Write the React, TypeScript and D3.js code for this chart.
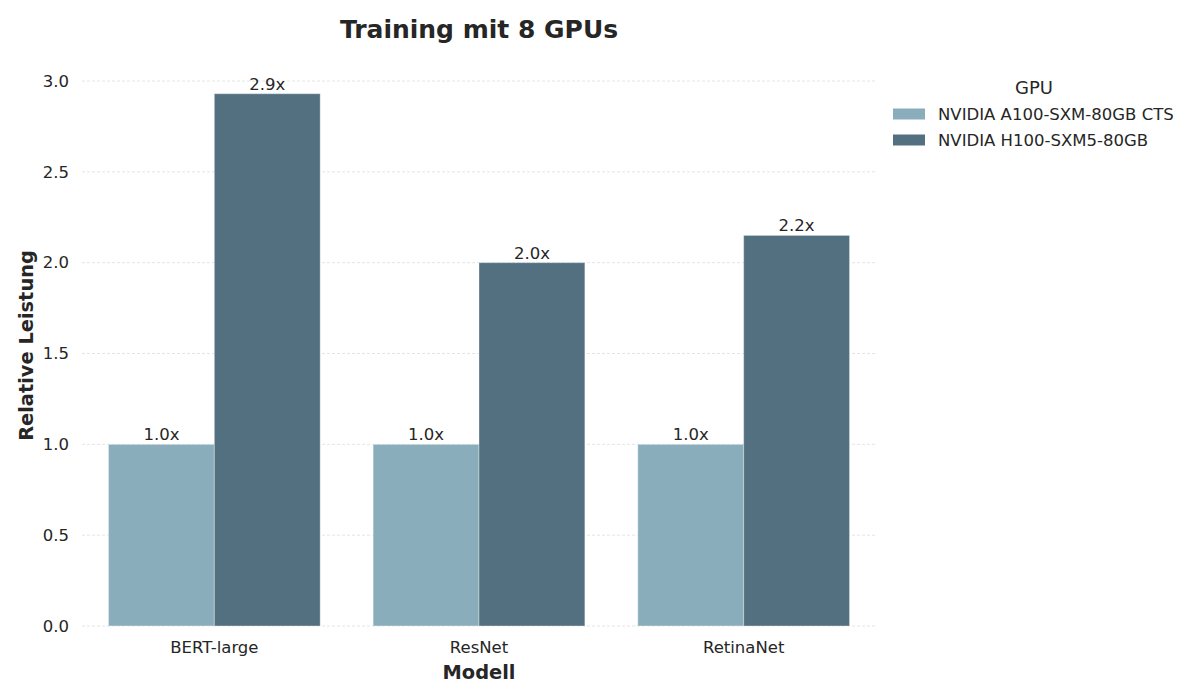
import React from 'react';
import * as d3 from 'd3';

// data
const models = ['BERT-large', 'ResNet', 'RetinaNet'];
const gpus = ['NVIDIA A100-SXM-80GB CTS', 'NVIDIA H100-SXM5-80GB'];
const a100 = [1.0, 1.0, 1.0];
const h100 = [2.93, 2.0, 2.15];
const a100Labels = ['1.0x', '1.0x', '1.0x'];
const h100Labels = ['2.9x', '2.0x', '2.2x'];
const yTicks = [0, 0.5, 1.0, 1.5, 2.0, 2.5, 3.0];

const colors = ['#8aadbc', '#537081'];
const textColor = '#262626';
const font = '"DejaVu Sans", sans-serif';

const W = 1200;
const H = 700;
const left = 82;
const right = 876;
const top = 65;
const bottom = 626;

function App() {
  const x = d3.scaleBand<string>().domain(models).range([left, right]).paddingInner(0.2).paddingOuter(0.1);
  const inner = d3.scaleBand<string>().domain(gpus).range([0, x.bandwidth()]);
  const y = d3.scaleLinear().domain([0, 3.0]).range([bottom, 81]);

  const series = [
    { gpu: gpus[0], values: a100, labels: a100Labels },
    { gpu: gpus[1], values: h100, labels: h100Labels },
  ];

  return (
    <svg width={W} height={H} style={{ position: 'absolute', left: 0, top: 0, background: '#fff' }} fontFamily={font}>
      {/* title */}
      <text x={(left + right) / 2} y={38} textAnchor="middle" fontSize={25} fontWeight="bold" fill={textColor}>
        Training mit 8 GPUs
      </text>

      {/* grid + y ticks */}
      {yTicks.map((t) => (
        <g key={t}>
          <line x1={left} x2={right} y1={y(t)} y2={y(t)} stroke="#dddddd" strokeWidth={0.8} strokeDasharray="3,2" />
          <text x={69} y={y(t)} dy="0.35em" textAnchor="end" fontSize={16.5} fill={textColor}>
            {d3.format('.1f')(t)}
          </text>
        </g>
      ))}

      {/* bars */}
      {series.map((s, si) =>
        models.map((m, i) => {
          const bx = (x(m) as number) + (inner(s.gpu) as number);
          const by = y(s.values[i]);
          return (
            <g key={m + si}>
              <rect
                x={bx}
                y={by}
                width={inner.bandwidth()}
                height={bottom - by}
                fill={colors[si]}
                stroke="#ffffff"
                strokeOpacity={0.35}
                strokeWidth={1}
              />
              <text x={bx + inner.bandwidth() / 2} y={by - 4} textAnchor="middle" fontSize={16.5} fill={textColor}>
                {s.labels[i]}
              </text>
            </g>
          );
        })
      )}

      {/* x ticks */}
      {models.map((m) => (
        <text key={m} x={(x(m) as number) + x.bandwidth() / 2} y={653} textAnchor="middle" fontSize={16.5} fill={textColor}>
          {m}
        </text>
      ))}

      {/* axis labels */}
      <text x={(left + right) / 2} y={679} textAnchor="middle" fontSize={19.4} fontWeight="bold" fill={textColor}>
        Modell
      </text>
      <text
        transform={`translate(33,${(top + bottom) / 2}) rotate(-90)`}
        textAnchor="middle"
        fontSize={19.4}
        fontWeight="bold"
        fill={textColor}
      >
        Relative Leistung
      </text>

      {/* legend */}
      <g>
        <text x={1034} y={94} textAnchor="middle" fontSize={18} fill={textColor}>
          GPU
        </text>
        {gpus.map((g, i) => (
          <g key={g} transform={`translate(893,${114 + i * 26})`}>
            <rect x={0} y={-5.5} width={32} height={11} fill={colors[i]} />
            <text x={45} y={0} dy="0.35em" fontSize={16.5} fill={textColor}>
              {g}
            </text>
          </g>
        ))}
      </g>
    </svg>
  );
}

export default App;
